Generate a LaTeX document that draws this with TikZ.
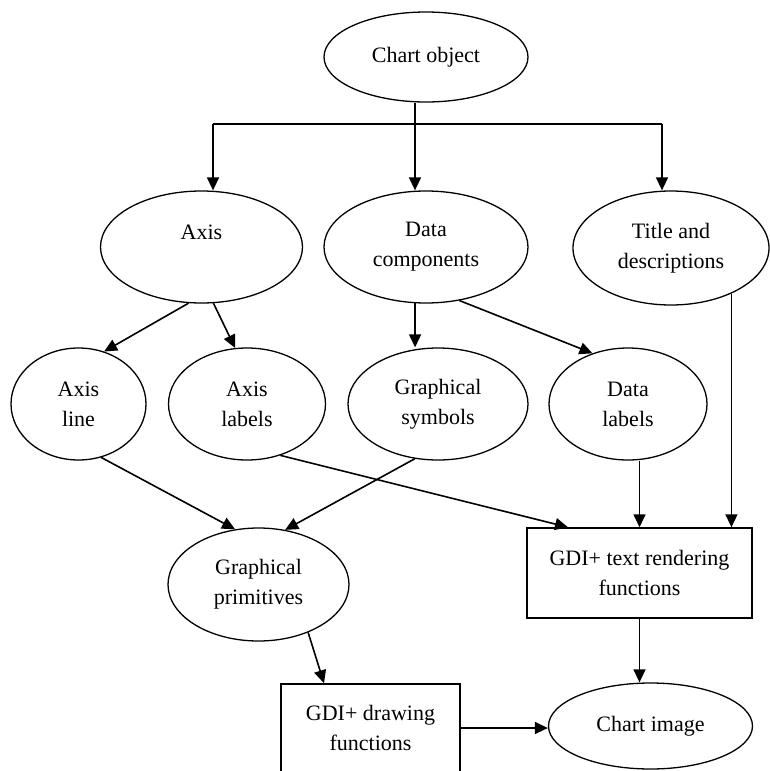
\documentclass[tikz,border=0pt]{standalone}
\usepackage{fontspec}
\setmainfont{Liberation Serif}
\usetikzlibrary{shapes.geometric,arrows.meta}
\begin{document}
\begin{tikzpicture}[x=1pt,y=-1pt,
  every node/.style={font=\fontsize{22}{30}\selectfont, align=center, inner sep=0pt},
  oval/.style={ellipse, draw, line width=1.3pt},
  boxnode/.style={rectangle, draw, line width=1.5pt},
  arr/.style={line width=1.6pt, -{Triangle[length=13pt,width=12pt]}},
  ln/.style={line width=1.6pt}]
\useasboundingbox (0,0) rectangle (770,771);
\clip (0,0) rectangle (770,771);

\node[oval, minimum width=204, minimum height=90] (chart) at (426,57) {Chart object};
\node[oval, minimum width=202, minimum height=112] (axis) at (201.5,247) {Axis\\{}};
\node[oval, minimum width=204, minimum height=112] (datac) at (426,247) {Data\\components};
\node[oval, minimum width=196, minimum height=114] (title) at (671,248) {Title and\\descriptions};
\node[oval, minimum width=135, minimum height=112] (axisline) at (78.5,404) {Axis\\line};
\node[oval, minimum width=157, minimum height=112] (axislab) at (247,404) {Axis\\labels};
\node[oval, minimum width=180, minimum height=112] (graphsym) at (438,404) {Graphical\\symbols};
\node[oval, minimum width=158, minimum height=112] (datalab) at (628,404) {Data\\labels};
\node[oval, minimum width=181, minimum height=113] (gprim) at (258.5,584.5) {Graphical\\primitives};
\node[boxnode, minimum width=225, minimum height=90] (gditext) at (639.5,573) {GDI+ text rendering\\functions};
\node[boxnode, minimum width=179, minimum height=88] (gdidraw) at (370.5,728) {GDI+ drawing\\functions};
\node[oval, minimum width=204, minimum height=86] (chartimg) at (650.5,726) {Chart image};

% tree from chart object
\coordinate (hub) at (415,124);
\coordinate (ha) at (213,124);
\coordinate (ht) at (662,124);
\draw[ln] (hub |- chart.south) -- (hub);
\draw[ln] (ha) -- (ht);
\draw[arr] (ha) -- (ha |- axis.north);
\draw[arr] (hub) -- (hub |- datac.north);
\draw[arr] (ht) -- (ht |- title.north);

% second level
\draw[arr] (axis.257.6) -- (axisline.64);
\draw[arr] (axis.282.4) -- (axislab.102);
\draw[arr] (datac.259) -- (datac.259 |- graphsym.north);
\draw[arr] (datac.302) -- (datalab.125);

% to GDI+ text rendering
\draw[arr] (title.323) -- (title.323 |- gditext.north);
\draw[arr] (datalab.south -| gditext.north) -- (gditext.north);
\draw[arr] (axislab.303) -- ([xshift=-71.5]gditext.north);

% to graphical primitives
\draw[arr] (axisline.293) -- (gprim.113.3);
\draw[arr] (graphsym.247) -- (gprim.64.8);

% bottom
\draw[arr] (gprim.316.3) -- ([xshift=-46.5]gdidraw.north);
\draw[arr] (gditext.south) -- (gditext.south |- chartimg.north);
\draw[arr] (gdidraw.east) -- (gdidraw.east -| chartimg.west);
\end{tikzpicture}
\end{document}
